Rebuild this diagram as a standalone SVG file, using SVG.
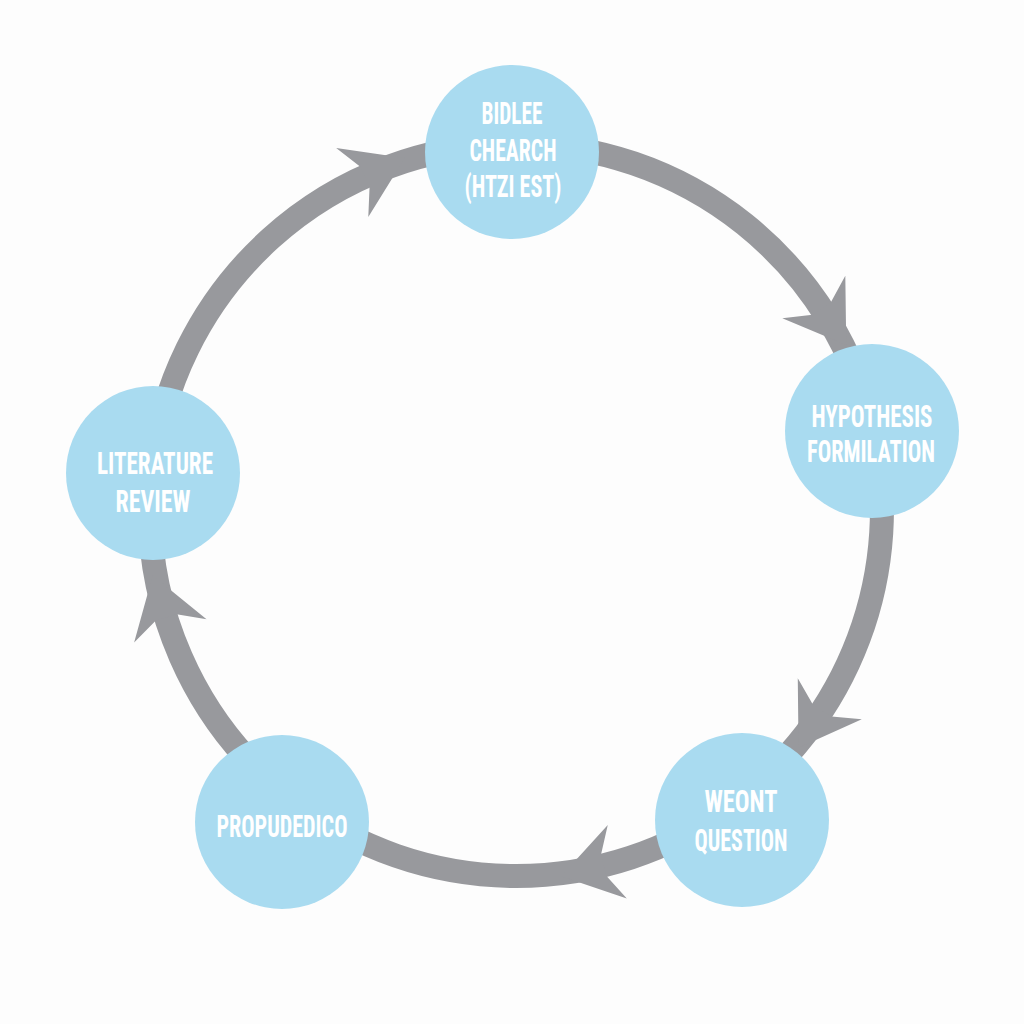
<svg xmlns="http://www.w3.org/2000/svg" xmlns:xlink="http://www.w3.org/1999/xlink" width="1024" height="1024" viewBox="0 0 1024 1024">
  <style>
    .ring { fill: none; stroke: #98999d; stroke-width: 24; }
    .ah { fill: #98999d; }
    .node { fill: #a9dbf0; }
    .lbl { fill: #ffffff; font-family: "Liberation Sans Narrow", "Roboto Condensed", "DejaVu Sans Condensed", "Liberation Sans", sans-serif; font-weight: bold; font-size: 32px; text-anchor: middle; }
  </style>
  <defs>
    <polygon id="ah" class="ah" points="48,0 -10,-38 4,-11 4,11 -10,38"/>
  </defs>
  <rect width="1024" height="1024" fill="#fdfdfd"/>
  <g id="connectors">
    <path class="ring" d="M151.9,473 A366,366 0 0 1 516,144"/>
    <path class="ring" d="M516,144 A366,366 0 0 1 873,429.6"/>
    <path class="ring" d="M873,429.6 A366,366 0 0 1 731.1,806.1"/>
    <path class="ring" d="M731.1,806.1 A366,366 0 0 1 296.3,802.7"/>
    <path class="ring" d="M296.3,802.7 A366,366 0 0 1 151.9,473"/>
    <use xlink:href="#ah" href="#ah" transform="translate(361.3,178.3) rotate(-25)"/>
    <use xlink:href="#ah" href="#ah" transform="translate(819.4,305.3) rotate(56)"/>
    <use xlink:href="#ah" href="#ah" transform="translate(824.4,707.2) rotate(122.6)"/>
    <use xlink:href="#ah" href="#ah" transform="translate(607.6,864.3) rotate(165.5)"/>
    <use xlink:href="#ah" href="#ah" transform="translate(167.3,621.3) rotate(252.3)"/>
  </g>
  <g id="node-top">
    <circle class="node" cx="512" cy="152" r="87"/>
    <text class="lbl" x="512" y="124" textLength="61" lengthAdjust="spacingAndGlyphs">BIDLEE</text>
    <text class="lbl" x="513" y="161" textLength="87" lengthAdjust="spacingAndGlyphs">CHEARCH</text>
    <text class="lbl" x="513" y="197" textLength="97" lengthAdjust="spacingAndGlyphs">(HTZI EST)</text>
  </g>
  <g id="node-right">
    <circle class="node" cx="872" cy="431" r="87"/>
    <text class="lbl" x="872" y="427" textLength="121" lengthAdjust="spacingAndGlyphs">HYPOTHESIS</text>
    <text class="lbl" x="871" y="462" textLength="128" lengthAdjust="spacingAndGlyphs">FORMILATION</text>
  </g>
  <g id="node-bottom-right">
    <circle class="node" cx="742" cy="820" r="87"/>
    <text class="lbl" x="741" y="812" textLength="73" lengthAdjust="spacingAndGlyphs">WEONT</text>
    <text class="lbl" x="741" y="851" textLength="93" lengthAdjust="spacingAndGlyphs">QUESTION</text>
  </g>
  <g id="node-bottom-left">
    <circle class="node" cx="282" cy="822" r="87"/>
    <text class="lbl" x="282" y="837" textLength="131" lengthAdjust="spacingAndGlyphs">PROPUDEDICO</text>
  </g>
  <g id="node-left">
    <circle class="node" cx="153" cy="473" r="87"/>
    <text class="lbl" x="155" y="474" textLength="116" lengthAdjust="spacingAndGlyphs">LITERATURE</text>
    <text class="lbl" x="153" y="512" textLength="75" lengthAdjust="spacingAndGlyphs">REVIEW</text>
  </g>
</svg>
